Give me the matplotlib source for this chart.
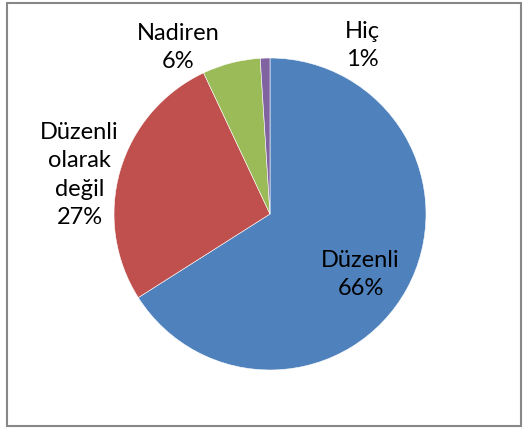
import matplotlib
matplotlib.use('Agg')
import matplotlib.pyplot as plt
from matplotlib.patches import Rectangle

# data
categories = ['Düzenli', 'Düzenli\nolarak\ndeğil', 'Nadiren', 'Hiç']
values = [66, 27, 6, 1]
colors = ['#4F81BD', '#C0504D', '#9BBB59', '#8064A2']

# label centres (pie radius = 1)
label_pos = [(0.58, -0.39), (-1.22, 0.25), (-0.59, 1.07), (0.59, 1.08)]

plt.rcParams['font.family'] = ['Lato', 'DejaVu Sans']

fig = plt.figure(figsize=(5.30, 4.28), dpi=100)
fig.patch.set_facecolor('white')
ax = fig.add_axes([0, 0, 1, 1])

wedges, _ = ax.pie(values, colors=colors, startangle=90, counterclock=False,
                   radius=1, wedgeprops=dict(edgecolor='white', linewidth=0.4))

total = sum(values)
for cat, v, (x, y) in zip(categories, values, label_pos):
    ax.text(x, y, '%s\n%d%%' % (cat, round(100 * v / total)), ha='center', va='center',
            fontsize=17, linespacing=1.42, color='black')

ax.set_aspect('auto')
ax.set_xlim(-270 / 156, 260 / 156)
ax.set_ylim(-214 / 156, 214 / 156)
ax.axis('off')

fig.patches.append(Rectangle((7 / 530, 2 / 428), 514 / 530, 423 / 428, transform=fig.transFigure,
                             fill=False, edgecolor='#878787', linewidth=1.5))

fig.savefig('out.png', dpi=100)
